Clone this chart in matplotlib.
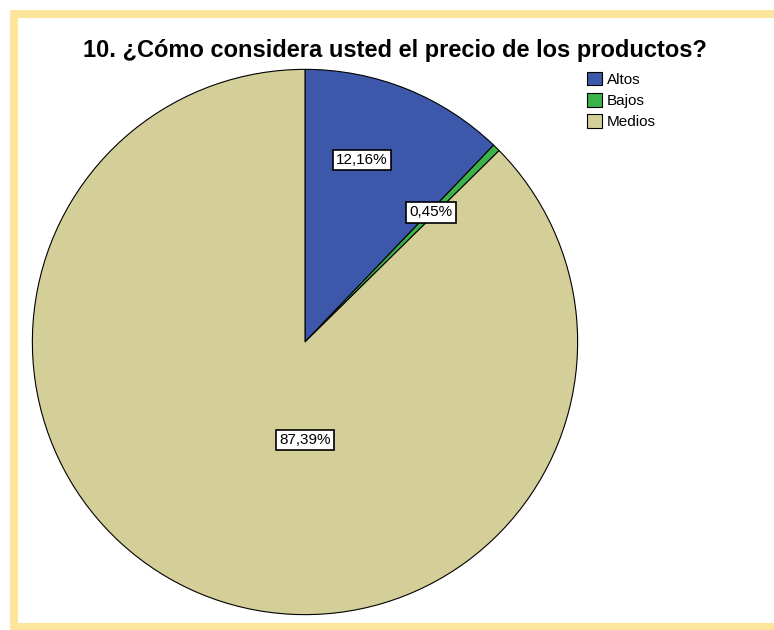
import numpy as np
import matplotlib.pyplot as plt
from matplotlib.patches import Rectangle

plt.rcParams['font.family'] = ['Liberation Sans', 'DejaVu Sans']

# Datos de la pregunta 10
categorias = ['Altos', 'Bajos', 'Medios']
porcentajes = [12.16, 0.45, 87.39]
colores = ['#3d58ab', '#3cb34a', '#d4cf98']
etiquetas = ['12,16%', '0,45%', '87,39%']

W, H = 774, 630
fig = plt.figure(figsize=(W / 100, H / 100), dpi=100)

# marco amarillo (izquierda, arriba, abajo)
amarillo = '#fde49b'
for x0, y0, w, h in [(10, 0, 8, 620), (10, 612, 764, 8), (10, 0, 764, 7)]:
    fig.patches.append(Rectangle((x0 / W, y0 / H), w / W, h / H, transform=fig.transFigure,
                                 facecolor=amarillo, edgecolor='none'))

ax = fig.add_axes([31 / W, 14 / H, 548 / W, 548 / H])
wedges, _ = ax.pie(porcentajes, colors=colores, startangle=90, counterclock=False,
                   radius=1.0, wedgeprops=dict(edgecolor='black', linewidth=0.8))
ax.set_xlim(-1.005, 1.005)
ax.set_ylim(-1.005, 1.005)
ax.set_aspect('equal')

# posiciones de las etiquetas (en unidades del radio)
pos_etiquetas = [(0.208, 0.668), (0.462, 0.475), (0.0, -0.358)]
for txt, (x, y) in zip(etiquetas, pos_etiquetas):
    ax.text(x, y, txt, ha='center', va='center', fontsize=11,
            bbox=dict(boxstyle='square,pad=0.2', facecolor='white',
                      edgecolor='black', linewidth=1.2))

fig.text(395 / W, 1 - 50 / H, '10. ¿Cómo considera usted el precio de los productos?',
         ha='center', va='center', fontsize=17, fontweight='bold')

fig.legend(wedges, categorias, loc='upper left', bbox_to_anchor=(576 / W, 1 - 61 / H),
           frameon=False, fontsize=11, handlelength=1.0, handleheight=1.0,
           handletextpad=0.33, labelspacing=0.4, borderpad=0.2)

fig.savefig('out.png', dpi=100, facecolor='white')
